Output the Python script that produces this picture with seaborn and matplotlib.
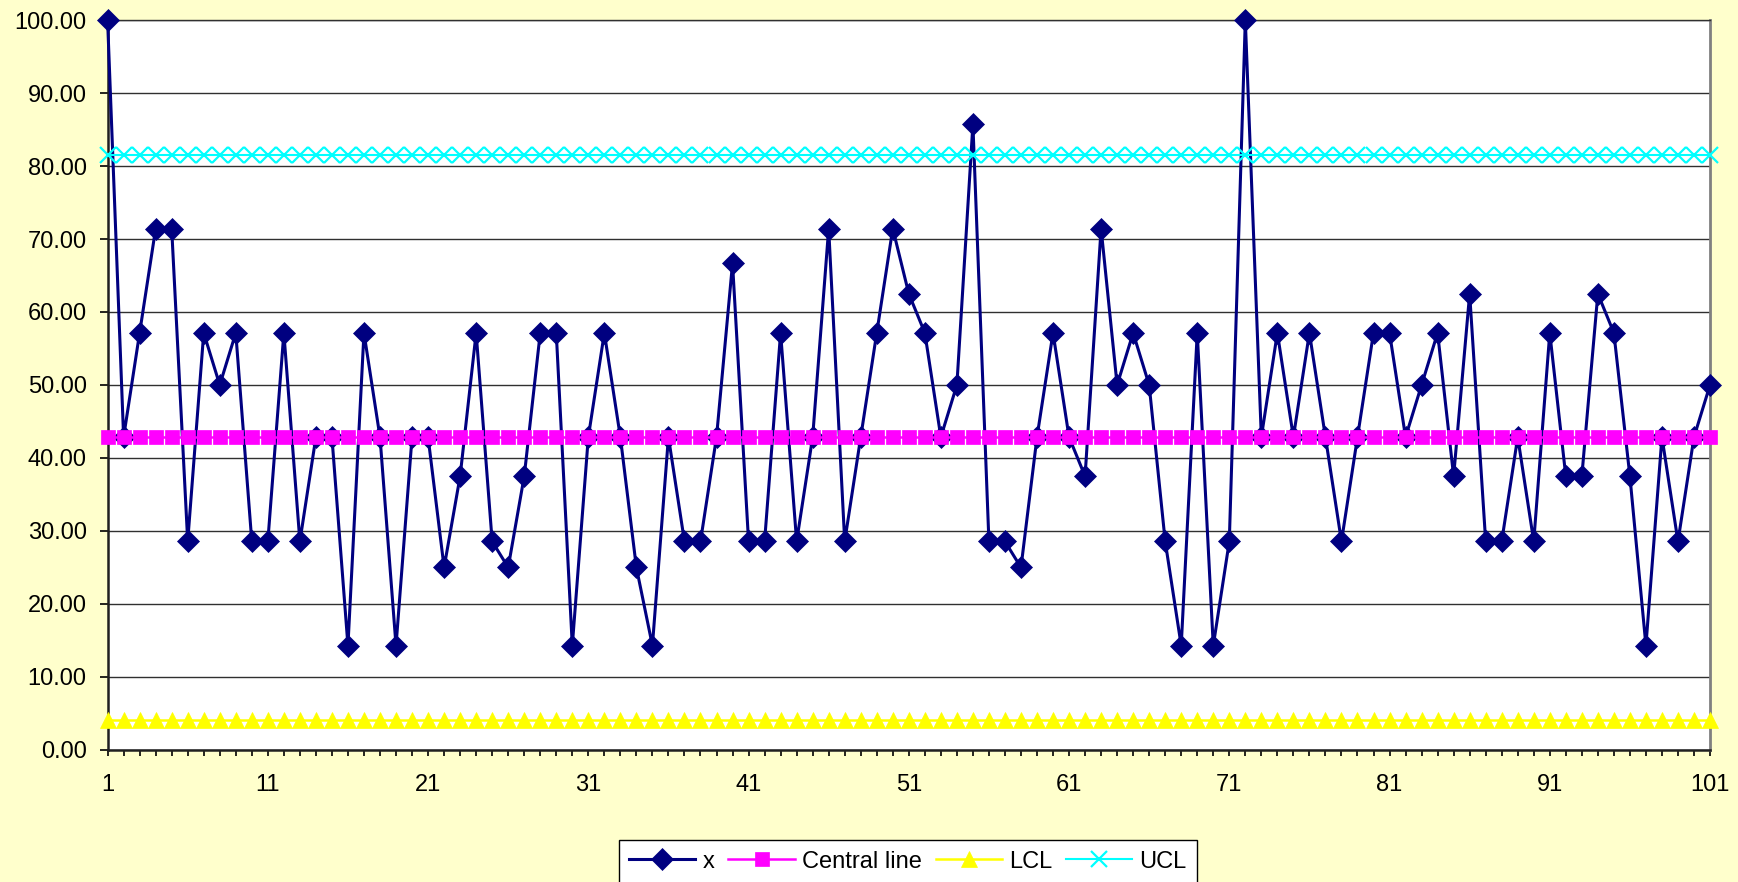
import numpy as np
import pandas as pd
import matplotlib
matplotlib.use('Agg')
import matplotlib.pyplot as plt
from matplotlib import font_manager
import seaborn as sns

# sample number 1..101
sample = list(range(1, 102))

x_values = [
    100.00, 42.86, 57.14, 71.43, 71.43, 28.57, 57.14, 50.00, 57.14, 28.57,
    28.57, 57.14, 28.57, 42.86, 42.86, 14.29, 57.14, 42.86, 14.29, 42.86,
    42.86, 25.00, 37.50, 57.14, 28.57, 25.00, 37.50, 57.14, 57.14, 14.29,
    42.86, 57.14, 42.86, 25.00, 14.29, 42.86, 28.57, 28.57, 42.86, 66.67,
    28.57, 28.57, 57.14, 28.57, 42.86, 71.43, 28.57, 42.86, 57.14, 71.43,
    62.50, 57.14, 42.86, 50.00, 85.71, 28.57, 28.57, 25.00, 42.86, 57.14,
    42.86, 37.50, 71.43, 50.00, 57.14, 50.00, 28.57, 14.29, 57.14, 14.29,
    28.57, 100.00, 42.86, 57.14, 42.86, 57.14, 42.86, 28.57, 42.86, 57.14,
    57.14, 42.86, 50.00, 57.14, 37.50, 62.50, 28.57, 28.57, 42.86, 28.57,
    57.14, 37.50, 37.50, 62.50, 57.14, 37.50, 14.29, 42.86, 28.57, 42.86,
    50.00,
]

# control limits (constant lines)
central_value = 42.86
lcl_value = 4.16
ucl_value = 81.56

central = np.full(len(sample), central_value)
lcl = np.full(len(sample), lcl_value)
ucl = np.full(len(sample), ucl_value)

y_ticks = [0, 10, 20, 30, 40, 50, 60, 70, 80, 90, 100]
x_ticks = list(range(1, 102, 10))

bg = '#FFFFCC'

fig = plt.figure(figsize=(17.38, 8.82), dpi=100, facecolor=bg)
ax = fig.add_axes([0.0619, 0.1497, 0.9839 - 0.0619, 0.9773 - 0.1497])
ax.set_facecolor('white')

# series drawn in the order Excel draws them
sns.lineplot(x=sample, y=x_values, ax=ax, color='#000080', linewidth=2.2,
             marker='D', markersize=11, markeredgecolor='#000080',
             markerfacecolor='#000080', markeredgewidth=0.5,
             clip_on=False, label='x', zorder=3)
sns.lineplot(x=sample, y=central, ax=ax, color='#FF00FF', linewidth=1.8,
             marker='s', markersize=10, markeredgecolor='#FF00FF',
             markerfacecolor='#FF00FF', markeredgewidth=0.5,
             clip_on=False, label='Central line', zorder=4)
sns.lineplot(x=sample, y=lcl, ax=ax, color='#FFFF00', linewidth=1.8,
             marker='^', markersize=12, markeredgecolor='#FFFF00',
             markerfacecolor='#FFFF00', markeredgewidth=0.5,
             clip_on=False, label='LCL', zorder=5)
sns.lineplot(x=sample, y=ucl, ax=ax, color='#00FFFF', linewidth=1.5,
             marker='x', markersize=12, markeredgecolor='#00FFFF',
             markeredgewidth=1.6,
             clip_on=False, label='UCL', zorder=6)

ax.set_xlim(1, 101)
ax.set_ylim(0, 100)
ax.set_yticks(y_ticks)
ax.set_yticklabels(['%.2f' % v for v in y_ticks])
ax.set_xticks(x_ticks)
ax.set_xticklabels([str(v) for v in x_ticks])
ax.set_xticks(sample, minor=True)
ax.set_xlabel('')
ax.set_ylabel('')

ax.yaxis.grid(True, color='#303030', linewidth=1.0, zorder=0)
ax.set_axisbelow(True)

for lab in ax.get_xticklabels() + ax.get_yticklabels():
    lab.set_family(['Liberation Sans', 'DejaVu Sans'])

ax.tick_params(axis='y', which='major', direction='out', length=6, width=1.2,
               pad=9, labelsize=17, colors='black')
ax.tick_params(axis='x', which='both', direction='out', length=4, width=1.2,
               pad=13, labelsize=17, colors='black')

for side in ['left', 'bottom']:
    ax.spines[side].set_color('#202020')
    ax.spines[side].set_linewidth(1.8)
ax.spines['top'].set_color('#303030')
ax.spines['top'].set_linewidth(1.0)
ax.spines['right'].set_color('#808080')
ax.spines['right'].set_linewidth(2.0)

# legend font: narrow sans if available
names = {f.name for f in font_manager.fontManager.ttflist}
if 'Liberation Sans Narrow' in names:
    leg_font = {'family': 'Liberation Sans Narrow', 'size': 20}
else:
    leg_font = {'family': 'Liberation Sans', 'size': 17}

leg = ax.legend(loc='upper center', bbox_to_anchor=(908 / 1738, 1 - 840 / 882),
                bbox_transform=fig.transFigure, ncol=4, frameon=True,
                fancybox=False, framealpha=1, edgecolor='black',
                prop=leg_font, handlelength=2.8, handletextpad=0.3,
                columnspacing=0.6, borderpad=0.45, borderaxespad=0)
leg.get_frame().set_linewidth(1.0)

fig.savefig('out.png', dpi=100, facecolor=bg)
